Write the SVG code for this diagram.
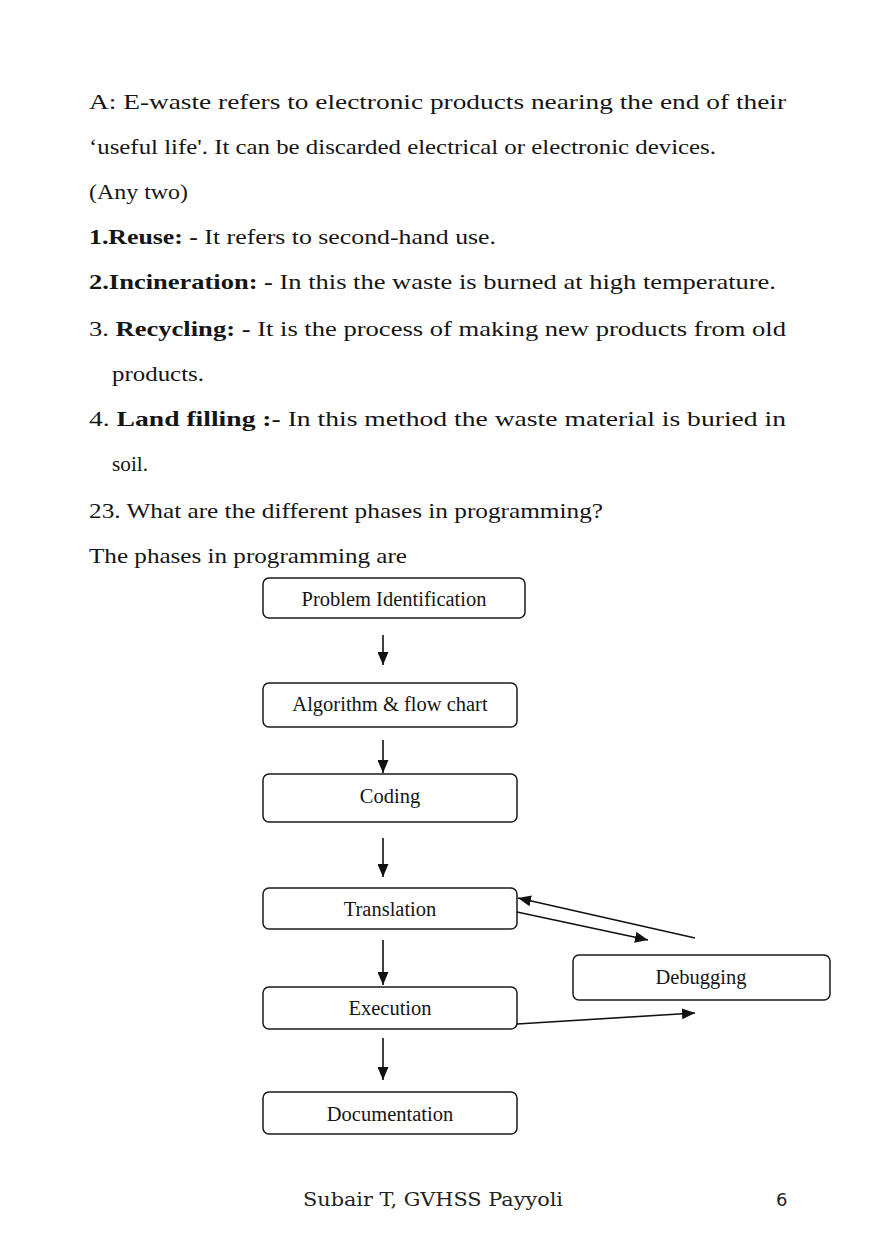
<svg xmlns="http://www.w3.org/2000/svg" width="874" height="1241" viewBox="0 0 874 1241">
<defs>
<style>
.body{font-family:"Liberation Serif","Times New Roman",serif;font-size:22px;fill:#151515}
.b{font-weight:bold}
.box{fill:#fff;stroke:#1a1a1a;stroke-width:1.5}
.lbl{font-family:"Liberation Serif","Times New Roman",serif;font-size:20.5px;fill:#151515;text-anchor:middle}
.conn line{stroke:#111;stroke-width:1.6;marker-end:url(#ah)}
.foot{font-family:"DejaVu Serif",serif;font-size:19px;fill:#222}
</style>
<marker id="ah" markerUnits="userSpaceOnUse" markerWidth="13" markerHeight="11" refX="13" refY="5.5" orient="auto">
<path d="M0,0 L13,5.5 L0,11 z" fill="#111"/>
</marker>
</defs>
<rect width="874" height="1241" fill="#fff"/>
<g id="text">
<text class="body" x="89" y="109" textLength="697" lengthAdjust="spacingAndGlyphs">A: E-waste refers to electronic products nearing the end of their</text>
<text class="body" x="89" y="154" textLength="627" lengthAdjust="spacingAndGlyphs">‘useful life'. It can be discarded electrical or electronic devices.</text>
<text class="body" x="89" y="199" textLength="99" lengthAdjust="spacingAndGlyphs">(Any two)</text>
<text class="body" x="89" y="244" textLength="407" lengthAdjust="spacingAndGlyphs"><tspan class="b">1.Reuse: -</tspan> It refers to second-hand use.</text>
<text class="body" x="89" y="289" textLength="687" lengthAdjust="spacingAndGlyphs"><tspan class="b">2.Incineration: -</tspan> In this the waste is burned at high temperature.</text>
<text class="body" x="89" y="336" textLength="697" lengthAdjust="spacingAndGlyphs">3. <tspan class="b">Recycling: -</tspan> It is the process of making new products from old</text>
<text class="body" x="112" y="381" textLength="92" lengthAdjust="spacingAndGlyphs">products.</text>
<text class="body" x="89" y="426" textLength="697" lengthAdjust="spacingAndGlyphs">4. <tspan class="b">Land filling :-</tspan> In this method the waste material is buried in</text>
<text class="body" x="112" y="471" textLength="36" lengthAdjust="spacingAndGlyphs">soil.</text>
<text class="body" x="89" y="518" textLength="514" lengthAdjust="spacingAndGlyphs">23. What are the different phases in programming?</text>
<text class="body" x="89" y="563" textLength="318" lengthAdjust="spacingAndGlyphs">The phases in programming are</text>
</g>
<g id="n-problem"><rect class="box" x="263" y="578" width="262" height="40" rx="6"/><text class="lbl" x="394" y="606">Problem Identification</text></g>
<g id="n-algorithm"><rect class="box" x="263" y="683" width="254" height="44" rx="6"/><text class="lbl" x="390" y="711">Algorithm &amp; flow chart</text></g>
<g id="n-coding"><rect class="box" x="263" y="774" width="254" height="48" rx="6"/><text class="lbl" x="390" y="803">Coding</text></g>
<g id="n-translation"><rect class="box" x="263" y="888" width="254" height="41" rx="6"/><text class="lbl" x="390" y="916">Translation</text></g>
<g id="n-execution"><rect class="box" x="263" y="987" width="254" height="42" rx="6"/><text class="lbl" x="390" y="1015">Execution</text></g>
<g id="n-documentation"><rect class="box" x="263" y="1092" width="254" height="42" rx="6"/><text class="lbl" x="390" y="1121">Documentation</text></g>
<g id="n-debugging"><rect class="box" x="573" y="955" width="257" height="45" rx="6"/><text class="lbl" x="701" y="984">Debugging</text></g>
<g id="connectors" class="conn">
<line x1="383" y1="635" x2="383" y2="665"/>
<line x1="383" y1="740" x2="383" y2="773"/>
<line x1="383" y1="838" x2="383" y2="877"/>
<line x1="383" y1="940" x2="383" y2="985"/>
<line x1="383" y1="1038" x2="383" y2="1080"/>
<line x1="517" y1="912" x2="648" y2="940"/>
<line x1="695" y1="938" x2="518" y2="898"/>
<line x1="517" y1="1024" x2="695" y2="1013"/>
</g>
<g id="footer">
<text class="foot" x="303" y="1206" textLength="260" lengthAdjust="spacingAndGlyphs">Subair T, GVHSS Payyoli</text>
<text x="776" y="1206" style="font-family:'DejaVu Sans',sans-serif;font-size:18px;fill:#222">6</text>
</g>
</svg>
